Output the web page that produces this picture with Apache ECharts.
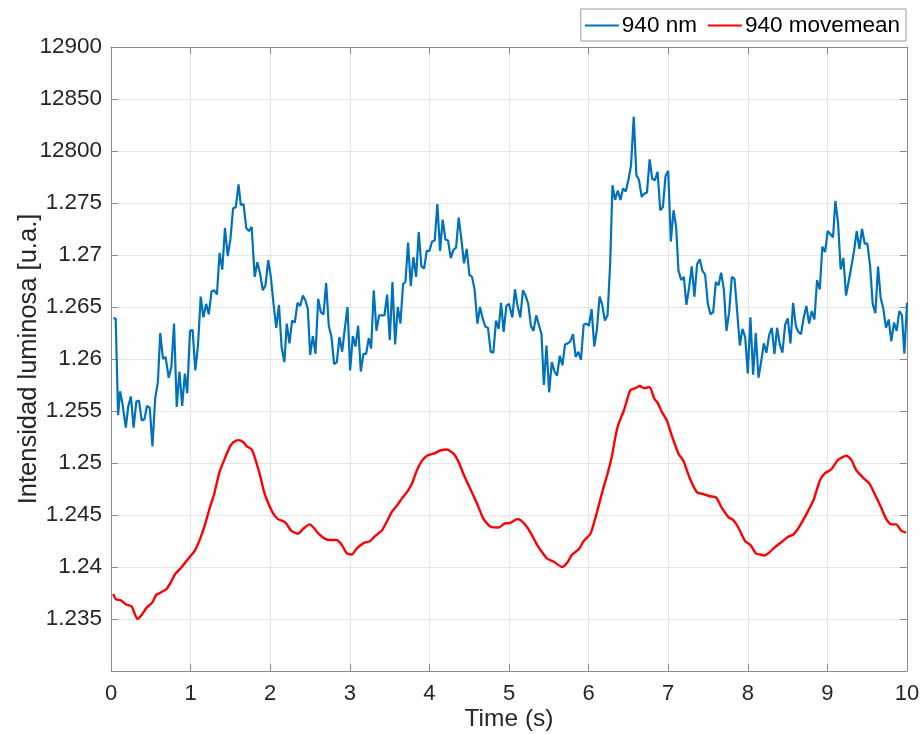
<!DOCTYPE html>
<html>
<head>
<meta charset="utf-8">
<script src="https://cdn.jsdelivr.net/npm/echarts@6/dist/echarts.min.js"></script>
<style>
  html, body { margin: 0; padding: 0; background: #ffffff; }
  #chart { width: 922px; height: 734px; }
</style>
</head>
<body>
<div id="chart"></div>
<script>
// Raw 940 nm signal: time (s) and intensity
const rawTime = [
  0.030,0.059,0.089,0.114,0.144,0.186,0.216,0.250,0.284,0.318,0.352,0.386,0.420,0.453,0.487,0.521,0.555,0.589,0.619,0.653,
  0.686,0.725,0.758,0.792,0.826,0.860,0.894,0.928,0.958,0.992,1.025,1.059,1.093,1.127,1.161,1.195,1.229,1.263,1.297,1.331,
  1.364,1.398,1.432,1.466,1.500,1.534,1.568,1.602,1.631,1.665,1.699,1.733,1.767,1.805,1.839,1.873,1.907,1.941,1.975,2.008,
  2.042,2.076,2.110,2.144,2.178,2.208,2.242,2.275,2.309,2.343,2.377,2.411,2.444,2.473,2.502,2.536,2.569,2.603,2.636,2.669,
  2.703,2.736,2.770,2.803,2.837,2.870,2.904,2.937,2.971,3.004,3.038,3.071,3.105,3.138,3.172,3.205,3.238,3.268,3.301,3.335,
  3.368,3.402,3.435,3.469,3.502,3.536,3.569,3.603,3.636,3.669,3.699,3.732,3.766,3.799,3.833,3.866,3.900,3.933,3.967,4.000,
  4.033,4.067,4.100,4.134,4.167,4.201,4.234,4.268,4.301,4.335,4.368,4.402,4.435,4.469,4.502,4.536,4.569,4.603,4.636,4.669,
  4.703,4.736,4.770,4.803,4.837,4.870,4.900,4.933,4.967,5.000,5.042,5.075,5.108,5.142,5.175,5.208,5.242,5.275,5.308,5.342,
  5.375,5.408,5.438,5.471,5.504,5.538,5.571,5.604,5.638,5.671,5.704,5.738,5.771,5.804,5.838,5.871,5.904,5.938,5.971,6.004,
  6.038,6.071,6.104,6.138,6.171,6.204,6.238,6.271,6.300,6.333,6.367,6.400,6.433,6.467,6.500,6.533,6.567,6.600,6.633,6.667,
  6.700,6.733,6.767,6.800,6.833,6.867,6.900,6.933,6.967,7.000,7.033,7.067,7.100,7.129,7.163,7.196,7.229,7.263,7.296,7.329,
  7.363,7.396,7.429,7.464,7.498,7.531,7.565,7.598,7.632,7.665,7.699,7.732,7.766,7.799,7.833,7.866,7.900,7.933,7.967,8.000,
  8.033,8.067,8.100,8.134,8.167,8.201,8.234,8.268,8.301,8.335,8.368,8.402,8.435,8.469,8.502,8.536,8.569,8.603,8.636,8.669,
  8.703,8.736,8.770,8.803,8.837,8.870,8.904,8.937,8.971,9.004,9.038,9.071,9.100,9.134,9.167,9.201,9.234,9.268,9.301,9.335,
  9.368,9.402,9.435,9.469,9.502,9.536,9.569,9.603,9.636,9.669,9.703,9.736,9.770,9.803,9.837,9.870,9.904,9.937,9.967,10.000
];
const rawValue = [
  12639,12639,12546,12569,12557,12534,12554,12564,12534,12559,12560,12541,12542,12555,12553,12516,12562,12578,12625,12600,
  12602,12582,12592,12634,12554,12588,12555,12586,12567,12627,12628,12589,12613,12660,12640,12653,12643,12665,12666,12662,
  12702,12686,12726,12699,12715,12745,12746,12768,12748,12749,12726,12723,12727,12679,12693,12682,12666,12671,12695,12679,
  12653,12630,12652,12611,12597,12634,12615,12637,12635,12654,12651,12661,12656,12648,12604,12622,12605,12658,12645,12643,
  12673,12632,12621,12595,12597,12621,12607,12629,12650,12589,12622,12612,12632,12588,12605,12605,12620,12610,12666,12627,
  12642,12642,12642,12662,12618,12674,12614,12650,12634,12672,12674,12712,12670,12698,12679,12722,12689,12687,12704,12704,
  12713,12714,12749,12704,12734,12715,12714,12697,12705,12707,12736,12715,12692,12706,12681,12679,12666,12634,12650,12639,
  12631,12630,12607,12606,12637,12629,12654,12626,12651,12653,12640,12667,12651,12640,12666,12661,12653,12632,12627,12642,
  12633,12624,12575,12613,12568,12597,12588,12584,12603,12594,12614,12615,12617,12624,12602,12607,12599,12633,12634,12632,
  12648,12612,12628,12660,12652,12637,12642,12692,12767,12753,12762,12753,12764,12761,12772,12786,12833,12777,12772,12756,
  12759,12760,12792,12773,12772,12780,12743,12746,12776,12781,12713,12743,12727,12685,12676,12679,12652,12669,12689,12660,
  12691,12696,12685,12681,12653,12643,12645,12674,12671,12683,12667,12627,12645,12679,12677,12646,12613,12629,12621,12586,
  12640,12585,12625,12582,12597,12615,12606,12623,12630,12605,12630,12614,12606,12633,12639,12615,12654,12632,12626,12624,
  12640,12651,12634,12646,12638,12676,12667,12708,12703,12723,12720,12717,12752,12731,12686,12697,12661,12675,12689,12704,
  12723,12706,12725,12711,12711,12690,12653,12644,12689,12659,12648,12630,12638,12617,12635,12627,12646,12642,12605,12654
];

// Moving mean of the same signal
const meanTime = [
  0.029,0.063,0.122,0.189,0.260,0.331,0.386,0.449,0.520,0.566,0.637,0.700,0.742,0.805,0.889,0.972,1.056,1.119,1.182,1.237,
  1.295,1.362,1.433,1.496,1.538,1.601,1.664,1.706,1.769,1.832,1.873,1.924,1.978,2.033,2.096,2.167,2.209,2.263,2.347,2.418,
  2.494,2.544,2.607,2.691,2.754,2.838,2.901,2.964,3.026,3.089,3.173,3.257,3.319,3.403,3.474,3.529,3.592,3.655,3.718,3.780,
  3.843,3.906,3.969,4.053,4.137,4.221,4.304,4.367,4.430,4.514,4.598,4.681,4.765,4.870,4.954,5.000,5.104,5.146,5.230,5.292,
  5.355,5.418,5.480,5.564,5.668,5.731,5.793,5.877,5.939,6.023,6.077,6.127,6.182,6.232,6.294,6.336,6.378,6.441,6.524,6.587,
  6.641,6.699,6.766,6.825,6.866,6.921,6.983,7.046,7.129,7.192,7.267,7.359,7.443,7.526,7.601,7.672,7.756,7.818,7.881,7.965,
  8.035,8.102,8.152,8.207,8.269,8.340,8.424,8.507,8.570,8.633,8.695,8.758,8.829,8.904,8.967,9.050,9.134,9.238,9.301,9.363,
  9.447,9.530,9.614,9.676,9.739,9.802,9.864,9.927,9.990
];
const meanValue = [
  12374,12369,12368,12364,12362,12350,12354,12361,12366,12373,12376,12379,12384,12393,12400,12408,12416,12427,12441,12456,
  12470,12491,12505,12516,12520,12522,12520,12516,12513,12499,12488,12472,12461,12452,12446,12444,12441,12435,12432,12437,
  12441,12438,12432,12427,12426,12426,12421,12413,12412,12418,12423,12425,12430,12435,12445,12453,12459,12466,12472,12480,
  12493,12502,12507,12509,12512,12513,12509,12501,12489,12475,12461,12446,12439,12438,12442,12442,12446,12445,12438,12430,
  12421,12414,12408,12405,12400,12404,12412,12417,12425,12432,12445,12459,12475,12488,12507,12525,12538,12550,12570,12572,
  12574,12572,12573,12562,12558,12549,12541,12526,12509,12502,12486,12472,12470,12468,12467,12457,12448,12445,12438,12425,
  12421,12413,12412,12411,12414,12419,12424,12429,12431,12437,12445,12454,12465,12483,12490,12494,12503,12507,12503,12493,
  12486,12480,12467,12457,12446,12441,12441,12435,12433
];

const xTicks = { min: 0, max: 10, step: 1 };
const yTicks = { min: 12300, max: 12900, step: 50 };

const FONT = '"Liberation Sans", Arial, Helvetica, sans-serif';
const AXIS_GRAY = '#8a8a8a';
const TEXT = '#262626';
const GRID_GRAY = '#e6e6e6';

// Tick labels: values up to 12750 are shown scaled by 1e4, above that as integers
function yLabel(v) {
  if (v <= yTicks.min) return '';
  if (v >= 12800) return String(Math.round(v));
  return String(parseFloat((v / 10000).toFixed(4)));
}

function zip(a, b) { return a.map((t, i) => [t, b[i]]); }

const chart = echarts.init(document.getElementById('chart'), null, { renderer: 'canvas' });

const boxAxisCommon = {
  axisLine: { show: true, onZero: false, lineStyle: { color: AXIS_GRAY, width: 1 } },
  axisTick: { show: true, inside: true, length: 7, lineStyle: { color: AXIS_GRAY } },
  axisLabel: { show: false },
  splitLine: { show: false }
};

chart.setOption({
  animation: false,
  backgroundColor: '#ffffff',
  textStyle: { fontFamily: FONT },
  grid: { left: 111, top: 47, right: 15, bottom: 63, containLabel: false, outerBoundsMode: 'none' },
  legend: {
    data: ['940 nm', '940 movemean'],
    right: 16,
    top: 9,
    orient: 'horizontal',
    icon: 'rect',
    backgroundColor: '#ffffff',
    borderColor: '#9a9a9a',
    borderWidth: 1,
    borderRadius: 0,
    padding: [5, 6, 4, 4],
    itemWidth: 34,
    itemHeight: 2.2,
    itemGap: 11,
    textStyle: { fontSize: 22.5, color: '#000000', fontFamily: FONT, padding: [0, 0, 0, -2] }
  },
  xAxis: [
    {
      type: 'value',
      min: xTicks.min, max: xTicks.max, interval: xTicks.step,
      name: 'Time (s)',
      nameLocation: 'middle',
      nameGap: 36,
      nameMoveOverlap: false,
      nameTextStyle: { fontSize: 24.5, color: TEXT, fontFamily: FONT },
      axisLine: { show: true, onZero: false, lineStyle: { color: AXIS_GRAY, width: 1 } },
      axisTick: { show: true, inside: true, length: 7, lineStyle: { color: AXIS_GRAY } },
      axisLabel: { fontSize: 22, color: TEXT, margin: 12, fontFamily: FONT },
      splitLine: { show: true, lineStyle: { color: GRID_GRAY, width: 1 } }
    },
    Object.assign({
      type: 'value', position: 'top',
      min: xTicks.min, max: xTicks.max, interval: xTicks.step
    }, boxAxisCommon)
  ],
  yAxis: [
    {
      type: 'value',
      min: yTicks.min, max: yTicks.max, interval: yTicks.step,
      name: 'Intensidad luminosa [u.a.]',
      nameLocation: 'middle',
      nameGap: 69,
      nameRotate: 90,
      nameMoveOverlap: false,
      nameTextStyle: { fontSize: 25.5, color: TEXT, fontFamily: FONT },
      axisLine: { show: true, onZero: false, lineStyle: { color: AXIS_GRAY, width: 1 } },
      axisTick: { show: true, inside: true, length: 7, lineStyle: { color: AXIS_GRAY } },
      axisLabel: { fontSize: 22.5, color: TEXT, margin: 9, fontFamily: FONT, formatter: yLabel },
      splitLine: { show: true, lineStyle: { color: GRID_GRAY, width: 1 } }
    },
    Object.assign({
      type: 'value', position: 'right',
      min: yTicks.min, max: yTicks.max, interval: yTicks.step
    }, boxAxisCommon)
  ],
  series: [
    {
      name: '940 nm',
      type: 'line',
      data: zip(rawTime, rawValue),
      symbol: 'none',
      lineStyle: { color: '#0072BD', width: 2.2 },
      itemStyle: { color: '#0072BD' },
      z: 2
    },
    {
      name: '940 movemean',
      type: 'line',
      data: zip(meanTime, meanValue),
      symbol: 'none',
      smooth: 0.2,
      lineStyle: { color: '#FF0000', width: 2.4 },
      itemStyle: { color: '#FF0000' },
      z: 3
    }
  ]
});
</script>
</body>
</html>
